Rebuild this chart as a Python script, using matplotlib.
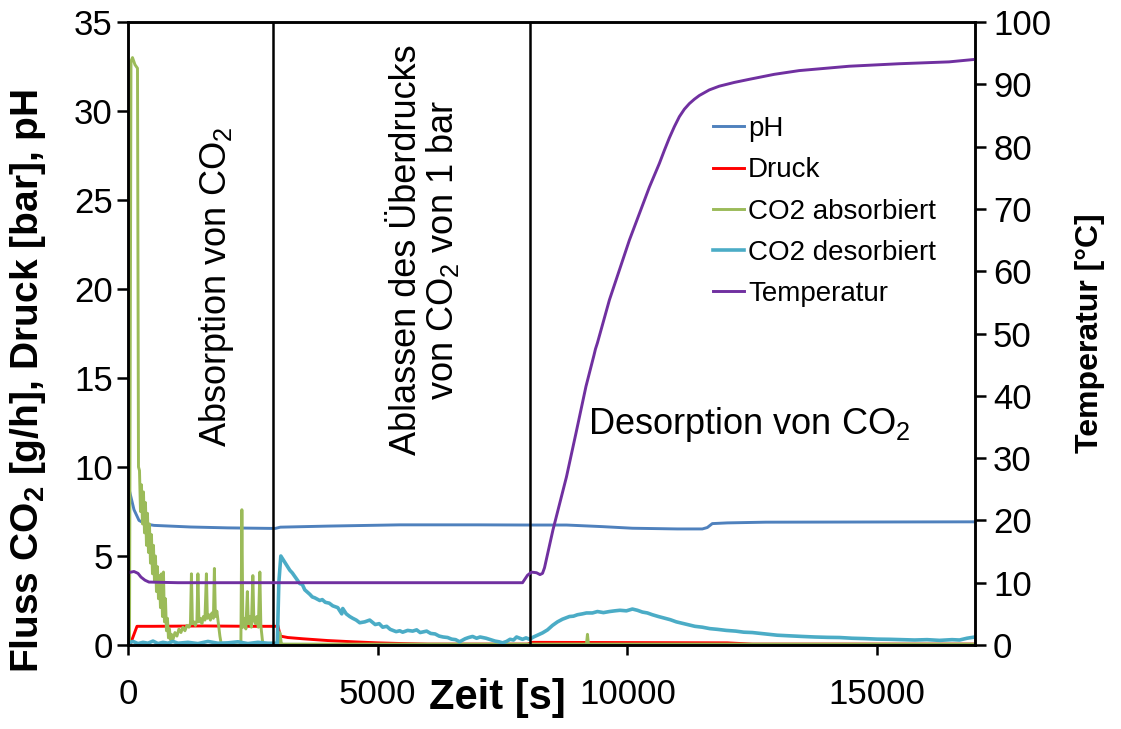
import matplotlib
matplotlib.use("Agg")
import matplotlib.pyplot as plt

plt.rcParams['font.family'] = ['Liberation Sans', 'DejaVu Sans']
plt.rcParams['mathtext.fontset'] = 'custom'
plt.rcParams['mathtext.rm'] = 'Liberation Sans'
plt.rcParams['mathtext.it'] = 'Liberation Sans:italic'
plt.rcParams['mathtext.bf'] = 'Liberation Sans:bold'

# Zeit [s] / Werte
ph_t = [0, 60, 120, 220, 350, 520, 1250, 2000, 2870, 2950, 3050, 4000, 5440, 7000, 8000, 8780,
        9500, 10100, 11000, 11500, 11600, 11700, 12000, 12770, 16960]
ph_v = [9.0, 8.3, 7.6, 7.0, 6.8, 6.72, 6.63, 6.58, 6.55, 6.55, 6.62, 6.68, 6.75, 6.75, 6.74, 6.74,
        6.65, 6.56, 6.52, 6.52, 6.6, 6.82, 6.86, 6.9, 6.92]

druck_t = [0, 40, 180, 500, 1500, 2500, 2960, 3000, 3050, 3200, 3500, 4000, 4500, 5000, 5500, 6000,
           8000, 8100, 12000, 12500, 16960]
druck_v = [0.0, 0.0, 1.05, 1.05, 1.07, 1.05, 1.05, 1.1, 0.5, 0.42, 0.35, 0.25, 0.18, 0.12, 0.08, 0.05,
           0.05, 0.15, 0.12, 0.05, 0.05]

abs_t = [0, 30, 60, 90, 140, 190, 210, 230, 250, 270, 290, 310, 330, 350, 370, 390, 410, 430, 450,
         470, 490, 510, 530, 550, 570, 590, 610, 630, 650, 670, 690, 710, 730, 750, 770, 790, 810,
         830, 850, 870, 900, 940, 980, 1020, 1060, 1100, 1140, 1180, 1220, 1250, 1270, 1290, 1320,
         1350, 1380, 1400, 1420, 1450, 1480, 1510, 1540, 1570, 1590, 1620, 1650, 1680, 1710, 1730,
         1750, 1780, 1810, 1840, 1870, 2260, 2280, 2300, 2330, 2360, 2390, 2410, 2440, 2470, 2500,
         2520, 2550, 2580, 2610, 2640, 2660, 2690, 2710, 3020, 3040, 3070, 3100, 9180, 9200, 9220,
         16960]
abs_v = [0.0, 0.0, 32.8, 33.0, 32.6, 32.4, 10.0, 9.8, 7.5, 9.0, 6.8, 8.6, 6.3, 8.0, 5.6, 7.4, 5.2,
         6.8, 4.6, 6.2, 4.0, 5.6, 3.6, 5.0, 3.0, 4.4, 2.6, 3.9, 2.1, 4.0, 1.6, 4.1, 1.3, 2.6, 0.8,
         1.5, 0.4, 0.9, 0.3, 0.6, 0.3, 0.7, 0.5, 0.9, 0.7, 1.0, 0.8, 1.1, 1.0, 1.2, 4.0, 1.2, 1.3,
         1.1, 1.4, 4.0, 1.3, 1.5, 1.2, 1.6, 1.4, 4.0, 1.5, 1.7, 1.4, 1.8, 1.5, 4.3, 1.6, 1.9, 1.2,
         0.5, 0.0, 0.0, 7.6, 1.0, 1.5, 0.9, 3.0, 1.2, 1.6, 1.0, 3.9, 1.4, 1.2, 1.6, 1.0, 4.1, 1.1,
         0.3, 0.0, 0.0, 0.7, 0.1, 0.05, 0.05, 0.6, 0.05, 0.05]

# CO2 desorbiert als (Zeit, Wert)-Paare
des_pts = [(0, 0.1), (100, 0.2), (200, 0.08), (300, 0.15), (400, 0.1), (500, 0.22), (600, 0.08),
           (700, 0.15), (800, 0.1), (900, 0.2), (1000, 0.1), (1200, 0.15), (1400, 0.08), (1600, 0.2),
           (1800, 0.1), (2000, 0.12), (2200, 0.18), (2400, 0.08), (2600, 0.15), (2800, 0.1),
           (2990, 0.1), (3020, 3.5), (3060, 5.0), (3150, 4.6), (3240, 4.2), (3290, 4.05),
           (3340, 3.85), (3440, 3.45), (3490, 3.4), (3540, 3.1), (3640, 2.85), (3690, 2.7),
           (3740, 2.65), (3840, 2.5), (3890, 2.55), (3950, 2.4), (4030, 2.35), (4100, 2.2),
           (4200, 2.1), (4280, 1.75), (4300, 2.05), (4370, 1.75), (4440, 1.6), (4500, 1.5),
           (4570, 1.4), (4640, 1.25), (4740, 1.3), (4840, 1.4), (4950, 1.15), (5030, 1.2),
           (5100, 1.0), (5180, 1.05), (5250, 0.88), (5370, 0.75), (5440, 0.8), (5500, 0.72),
           (5600, 0.82), (5700, 0.78), (5780, 0.85), (5850, 0.7), (5980, 0.78), (6060, 0.65),
           (6150, 0.62), (6230, 0.5), (6310, 0.45), (6400, 0.42), (6480, 0.33), (6560, 0.3),
           (6640, 0.18), (6750, 0.35), (6820, 0.42), (6900, 0.48), (6980, 0.38), (7050, 0.45),
           (7170, 0.38), (7260, 0.3), (7350, 0.22), (7430, 0.18), (7500, 0.12), (7580, 0.2),
           (7650, 0.32), (7720, 0.28), (7780, 0.45), (7900, 0.32), (7970, 0.4), (8040, 0.32),
           (8120, 0.45), (8200, 0.55), (8300, 0.68), (8400, 0.85), (8500, 1.1), (8600, 1.3),
           (8700, 1.45), (8840, 1.6), (8920, 1.62), (9000, 1.7), (9100, 1.75), (9180, 1.8),
           (9300, 1.8), (9400, 1.88), (9520, 1.82), (9640, 1.88), (9750, 1.92), (9850, 1.95),
           (9980, 1.92), (10100, 2.02), (10200, 1.95), (10300, 1.85), (10400, 1.8), (10500, 1.7),
           (10620, 1.6), (10750, 1.5), (10860, 1.42), (10980, 1.3), (11100, 1.22), (11200, 1.15),
           (11350, 1.05), (11500, 1.0), (11650, 0.92), (11800, 0.88), (11980, 0.82), (12170, 0.78),
           (12330, 0.72), (12500, 0.7), (12670, 0.65), (12840, 0.6), (13000, 0.55), (13200, 0.52),
           (13350, 0.5), (13500, 0.48), (13750, 0.45), (14000, 0.43), (14250, 0.42), (14500, 0.38),
           (14750, 0.36), (15000, 0.33), (15250, 0.32), (15500, 0.3), (15750, 0.28), (16000, 0.3),
           (16250, 0.26), (16500, 0.3), (16650, 0.28), (16800, 0.38), (16960, 0.45)]
des_t = [p[0] for p in des_pts]
des_v = [p[1] for p in des_pts]

temp_t = [0, 120, 200, 260, 340, 420, 1000, 7900, 8000, 8080, 8180, 8250, 8300, 8340, 8510, 8780,
          8970, 9170, 9330, 9360, 9400, 9640, 10040, 10440, 10640, 10740, 10840, 10940, 11040,
          11140, 11240, 11340, 11440, 11640, 11840, 12140, 12440, 12940, 13440, 14440, 15440,
          16440, 16960]
temp_v = [11.6, 11.8, 11.5, 10.9, 10.4, 10.1, 10.0, 10.0, 11.2, 11.7, 11.6, 11.3, 11.5, 12.4, 18.5,
          27.0, 34.0, 41.5, 46.5, 47.5, 48.5, 55.4, 65.0, 73.5, 77.3, 79.4, 81.4, 83.2, 84.8, 86.0,
          86.9, 87.6, 88.2, 89.1, 89.7, 90.3, 90.8, 91.6, 92.2, 92.9, 93.3, 93.6, 94.0]

phase_bounds = [2900, 8040]

fig = plt.figure(figsize=(11.21, 7.29), dpi=100)
ax = fig.add_axes([128 / 1121, 84 / 729, 847 / 1121, 623 / 729])
ax2 = ax.twinx()

lw = 2.1
l1, = ax.plot(ph_t, ph_v, color='#4F81BD', lw=lw, label='pH')
l2, = ax.plot(druck_t, druck_v, color='#FF0000', lw=lw, label='Druck')
l3, = ax.plot(abs_t, abs_v, color='#9BBB59', lw=lw, label='CO2 absorbiert')
l4, = ax.plot(des_t, des_v, color='#4BACC6', lw=2.6, label='CO2 desorbiert')
l5, = ax2.plot(temp_t, temp_v, color='#7030A0', lw=lw, label='Temperatur')

for xb in phase_bounds:
    ax.axvline(xb, color='black', lw=1.8)

ax.set_xlim(0, 16960)
ax.set_ylim(0, 35)
ax2.set_ylim(0, 100)
ax.set_xticks([0, 5000, 10000, 15000])
ax.set_yticks(range(0, 36, 5))
ax2.set_yticks(range(0, 101, 10))

ax.tick_params(axis='x', direction='out', length=7, width=1.8, labelsize=25, pad=17)
ax.tick_params(axis='y', direction='out', length=8, width=1.8, labelsize=25, pad=3)
ax2.tick_params(axis='y', direction='out', length=8, width=1.8, labelsize=25, pad=5)
for a in (ax, ax2):
    for sp in a.spines.values():
        sp.set_linewidth(1.8)

ax.set_xlabel('Zeit [s]', fontsize=30, fontweight='bold')
ax.xaxis.set_label_coords(0.436, -0.053)
ax.set_ylabel(r'Fluss CO$_\mathbf{2}$ [g/h], Druck [bar], pH', fontsize=28, fontweight='bold')
ax.yaxis.set_label_coords(-0.094, 0.424)
ax2.set_ylabel('Temperatur [°C]', fontsize=23, fontweight='bold')
ax2.yaxis.set_label_coords(1.118, 0.5)

ax.text(1780, 20.1, r'Absorption von CO$_2$', rotation=90, fontsize=26,
        ha='center', va='center')
ax.text(5940, 22.2, 'Ablassen des Überdrucks\n' + r'von CO$_2$ von 1 bar', rotation=90,
        fontsize=26, ha='center', va='center', multialignment='center', linespacing=1.0)
ax.text(12440, 12.4, r'Desorption von CO$_2$', fontsize=26, ha='center', va='center')

ax.legend(handles=[l1, l2, l3, l4, l5], loc='upper left', bbox_to_anchor=(0.691, 0.849),
          frameon=False, fontsize=20, handlelength=1.1, handletextpad=0.15,
          borderaxespad=0, borderpad=0, labelspacing=0.55)

fig.savefig('out.png', dpi=100)
